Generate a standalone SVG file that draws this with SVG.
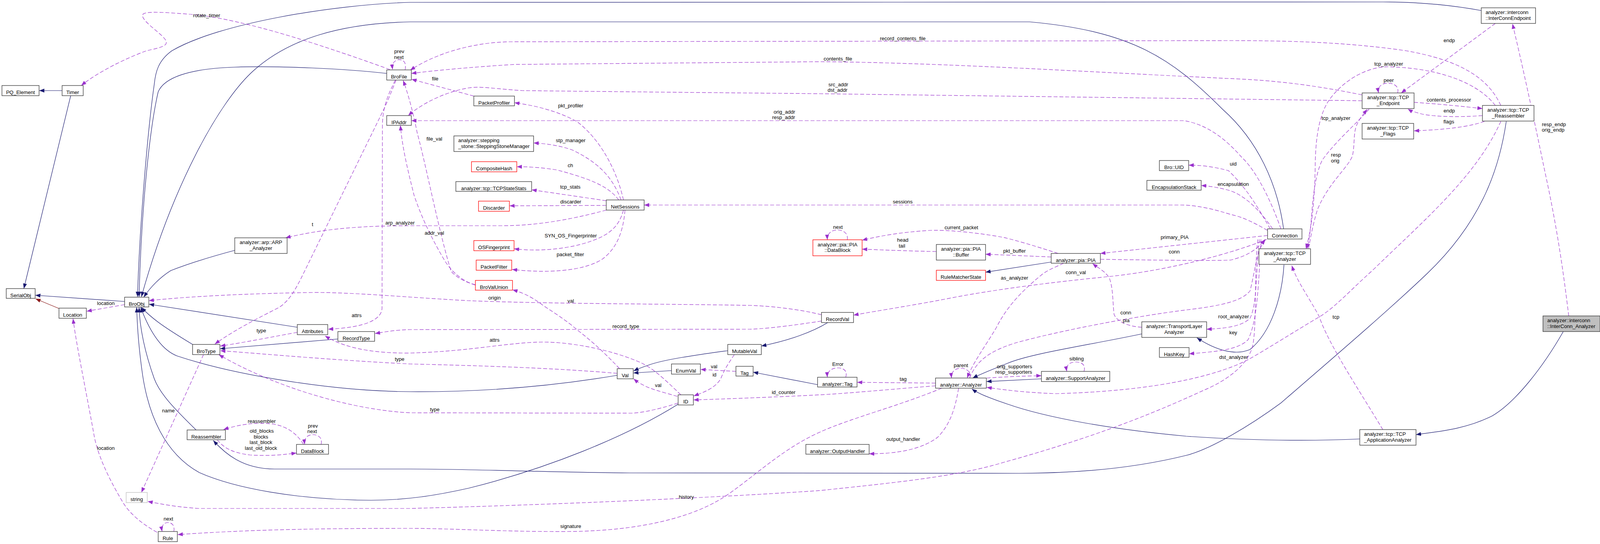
<svg xmlns="http://www.w3.org/2000/svg" width="4195" height="1393" viewBox="0 0 4195 1393">
<style>
text{font-family:"Liberation Sans",Arial,Helvetica,sans-serif;font-size:13px;fill:#000}
.n{text-anchor:middle}
.nl{text-anchor:start}
.l{text-anchor:middle}
.node rect{fill:#fff;stroke:#333;stroke-width:1.3}
.red rect{stroke:#ff0000}
.gray rect{stroke:#bfbfbf}
.hl rect{fill:#bfbfbf}
.inh{fill:none;stroke:#191970;stroke-width:1.2;marker-end:url(#ai)}
.prv{fill:none;stroke:#8b1a1a;stroke-width:1.2;marker-end:url(#ar)}
.use{fill:none;stroke:#9a32cd;stroke-width:1.2;stroke-dasharray:10,5;marker-end:url(#au)}
</style>
<defs>
<marker id="ai" markerUnits="userSpaceOnUse" markerWidth="13" markerHeight="10" viewBox="0 0 13 10" refX="13" refY="5" orient="auto"><path d="M0,0L13,5L0,10z" fill="#191970"/></marker>
<marker id="ar" markerUnits="userSpaceOnUse" markerWidth="13" markerHeight="10" viewBox="0 0 13 10" refX="13" refY="5" orient="auto"><path d="M0,0L13,5L0,10z" fill="#8b1a1a"/></marker>
<marker id="au" markerUnits="userSpaceOnUse" markerWidth="13" markerHeight="10" viewBox="0 0 13 10" refX="13" refY="5" orient="auto"><path d="M0,0L13,5L0,10z" fill="#9a32cd"/></marker>
</defs>
<rect width="4195" height="1393" fill="#fff"/>
<g id="edges">
<path class="inh" d="M159,232L100.5,232"/>
<path class="inh" d="M181,245L61,739"/>
<path class="inh" d="M319,772L90.5,756"/>
<path class="prv" d="M151,790L91,765"/>
<path class="inh" d="M3792,27C3700,10 3620,5 3540,5L1050,6C850,12 560,60 440,130C405,155 398,185 395,215C380,320 358,560 352,760"/>
<path class="inh" d="M3286,586C3270,470 3220,360 3130,280C3000,150 2900,80 2636,56L1050,56C870,60 740,100 650,180C560,260 440,480 362,760"/>
<path class="inh" d="M990,188C880,176 720,168 600,172C480,176 420,200 405,235C385,320 362,520 356,760"/>
<path class="inh" d="M601,641C530,660 470,680 437,693C410,710 385,735 368,761"/>
<path class="inh" d="M761,838L381.5,779"/>
<path class="inh" d="M493,882C460,862 425,840 405,825C385,810 372,798 362,787"/>
<path class="inh" d="M1580,961C1380,995 1200,1004 1050,1003C850,1002 600,960 455,912C410,896 380,840 360,787"/>
<path class="inh" d="M502,1101C450,1050 410,1010 395,970C370,900 358,840 356,787"/>
<path class="inh" d="M1736,1035C1600,1120 1400,1200 1200,1250C1120,1268 1040,1281 950,1281C760,1280 600,1250 510,1210C420,1160 380,1060 365,960C355,890 351,830 350,787"/>
<path class="inh" d="M865,868L563.5,893"/>
<path class="inh" d="M1719,949L1621.5,955"/>
<path class="inh" d="M1863,898C1790,908 1700,920 1660,935C1645,940 1632,945 1622,950"/>
<path class="inh" d="M2119,826C2080,850 2020,872 1949,886"/>
<path class="inh" d="M2093,985L1928,953"/>
<path class="inh" d="M2691,671L2523,697"/>
<path class="inh" d="M2923,855C2780,885 2640,905 2580,930C2540,946 2510,958 2490,968"/>
<path class="inh" d="M2666,970L2525.5,977"/>
<path class="inh" d="M3287,678C3282,760 3255,850 3200,895C3160,912 3110,895 3064,865"/>
<path class="inh" d="M3481,1124C3350,1130 3200,1128 3037,1117C2850,1100 2680,1070 2580,1035C2530,1018 2505,1008 2488,996"/>
<path class="inh" d="M3856,311C3840,420 3800,560 3654,700C3560,790 3420,910 3279,1032C3200,1090 3100,1150 3037,1166C2900,1200 2750,1212 2609,1212L1612,1211C1400,1209 1200,1201 1050,1201L703,1201C620,1201 575,1160 546,1128"/>
<path class="inh" d="M4002,849C3950,940 3880,1030 3820,1065C3750,1100 3680,1105 3625,1113"/>

<path class="use" d="M998,178C850,125 620,45 480,36C400,30 360,28 365,42C370,60 420,90 425,105C430,118 410,122 375,130C320,150 250,185 208,219"/>
<path class="use" d="M1037,179C1041,160 1033,152 1021,153C1009,154 1003,163 1005,178"/>
<path class="use" d="M1014,205C1000,240 990,265 980,285L777,700C755,745 740,770 715,787C660,815 600,845 550,881"/>
<path class="use" d="M1012,205C995,240 980,270 979,320L978,790C975,830 900,840 840,843"/>
<path class="use" d="M1552,538C1470,560 1380,578 1284,578L1050,578C930,578 830,585 731,609"/>
<path class="use" d="M1217,729C1195,724 1170,712 1155,695C1125,600 1090,420 1068,340C1058,290 1045,240 1032,206"/>
<path class="use" d="M1217,730C1185,720 1160,700 1140,670C1110,620 1080,560 1060,500C1045,440 1030,380 1025,321"/>
<path class="use" d="M1213,246L1053.5,203"/>
<path class="use" d="M3842,270C3810,200 3740,155 3600,130C3450,108 3300,104 3145,104L1300,107C1200,110 1110,140 1050,180"/>
<path class="use" d="M3487,243C3350,215 3250,205 3145,201C2800,185 2400,160 2100,158L1318,165C1200,172 1100,182 1053,188"/>
<path class="use" d="M3487,258L2100,240C1800,237 1500,234 1338,232C1270,228 1230,220 1200,225C1140,235 1080,265 1045,296"/>
<path class="use" d="M3279,586C3260,530 3220,440 3178,402C3150,370 3100,320 3031,309L1053,309"/>
<path class="use" d="M3252,586C3230,550 3200,490 3145,437C3100,425 3070,423 3043,423"/>
<path class="use" d="M3258,586C3230,545 3190,500 3145,487C3110,478 3090,476 3075,475"/>
<path class="use" d="M3245,590C3210,570 3180,555 3150,549C3090,530 3050,525 3024,525L1649,525"/>
<path class="use" d="M1596,512C1580,440 1540,360 1478,312C1430,285 1370,270 1317,263"/>
<path class="use" d="M1590,512C1570,460 1540,420 1465,384C1430,372 1400,368 1366,366"/>
<path class="use" d="M1584,512C1560,480 1520,460 1425,435C1380,428 1350,427 1323,427"/>
<path class="use" d="M1552,514L1361,486"/>
<path class="use" d="M1552,526L1304.5,527"/>
<path class="use" d="M1596,538C1585,580 1560,600 1520,615C1460,638 1380,645 1316,637"/>
<path class="use" d="M1600,538C1595,600 1575,640 1540,665C1490,695 1400,700 1311,690"/>
<path class="use" d="M1586,944C1540,895 1510,870 1478,845C1440,812 1400,790 1385,778C1360,760 1340,750 1312,742"/>
<path class="use" d="M2103,806C2040,790 1960,783 1920,782C1700,778 1400,778 1200,770C1050,762 900,748 800,749C600,752 450,762 381,770"/>
<path class="use" d="M2103,822C2000,838 1950,842 1920,843L1050,844C1010,845 985,850 960,854"/>
<path class="use" d="M1743,1011C1700,970 1670,940 1632,925C1560,895 1460,875 1385,876C1300,877 1200,900 1050,904C950,905 880,890 832,860"/>
<path class="use" d="M1580,956C1450,945 1300,938 1050,932C850,922 700,908 564,898"/>
<path class="use" d="M1736,1032C1680,1050 1640,1057 1619,1058L1050,1057C900,1050 700,990 560,908"/>
<path class="use" d="M761,851C700,862 620,878 564,886"/>
<path class="use" d="M1734,1015C1700,1005 1660,995 1645,985C1635,980 1628,975 1622,970"/>
<path class="use" d="M1884,951L1793.5,946"/>
<path class="use" d="M1880,908C1865,930 1855,945 1845,970C1830,995 1800,1005 1776,1014"/>
<path class="use" d="M2395,988C2300,995 2200,1005 2100,1011C2000,1016 1850,1022 1775.5,1024"/>
<path class="use" d="M2395,981L2194.5,979"/>
<path class="use" d="M2165,966C2170,952 2162,942 2145,942C2128,942 2117,952 2118,966"/>
<path class="use" d="M2483,968C2486,952 2475,943 2460,943C2445,943 2434,952 2436,968"/>
<path class="use" d="M2723,674C2700,685 2680,692 2665,705C2610,750 2575,790 2550,840C2520,890 2490,930 2476,968"/>
<path class="use" d="M2482,968C2500,925 2530,900 2600,878C2700,850 2900,810 3050,792C3130,782 3180,770 3200,745C3212,700 3215,650 3238,613"/>
<path class="use" d="M2526,968C2570,965 2620,963 2666,962"/>
<path class="use" d="M2775,951C2780,935 2770,927 2754,927C2738,927 2728,935 2731,951"/>
<path class="use" d="M2454,994C2445,1050 2430,1090 2400,1120C2360,1150 2300,1162 2225,1162"/>
<path class="use" d="M2411,994C2300,1040 2180,1070 2100,1106C2000,1150 1920,1230 1853,1273C1780,1320 1650,1360 1452,1361C1300,1362 1150,1353 1050,1353C850,1353 650,1355 455,1369"/>
<path class="use" d="M3220,613C3210,700 3218,830 3207,885C3195,935 3140,975 3080,1000C2950,1060 2800,1120 2569,1184C2450,1220 2300,1235 2100,1256C1900,1270 1500,1290 1050,1302L509,1302C450,1298 420,1292 378,1284"/>
<path class="use" d="M3842,311C3780,450 3650,560 3513,693C3460,740 3420,785 3380,810C3320,845 3250,890 3197,920C3140,950 3000,1000 2703,1008C2620,1005 2570,998 2526,992"/>
<path class="use" d="M3224,613C3215,700 3218,780 3200,815C3180,835 3140,841 3089,843"/>
<path class="use" d="M3228,613C3222,720 3220,820 3195,870C3170,895 3120,900 3044,906"/>
<path class="use" d="M3245,603L2817,649"/>
<path class="use" d="M2817,664C2950,666 3100,668 3150,666C3195,655 3215,640 3240,613"/>
<path class="use" d="M3243,613C3150,650 3000,690 2850,707C2700,722 2570,738 2450,760C2350,780 2250,795 2185,807"/>
<path class="use" d="M2923,838C2890,836 2860,825 2852,805C2848,770 2850,740 2840,712C2830,695 2810,685 2797,675"/>
<path class="use" d="M2709,649C2650,630 2600,615 2569,608C2500,595 2420,588 2380,590C2300,595 2250,605 2207,615"/>
<path class="use" d="M2397,644C2330,643 2260,640 2207,638"/>
<path class="use" d="M2691,658L2523,651"/>
<path class="use" d="M2169,614C2172,598 2160,589 2144,589C2128,589 2117,598 2118,614"/>
<path class="use" d="M445,1361C448,1346 440,1338 430,1338C420,1338 412,1346 415,1361"/>
<path class="use" d="M822,1138C826,1122 816,1113 801,1113C787,1113 778,1122 780,1138"/>
<path class="use" d="M777,1138C760,1110 735,1092 700,1086C650,1080 610,1088 572,1100"/>
<path class="use" d="M556,1126C575,1150 600,1160 640,1165C690,1168 720,1165 759,1160"/>
<path class="use" d="M521,908L362,1261"/>
<path class="use" d="M402,1363C360,1340 330,1312 315,1287C275,1220 248,1160 240,1110C220,1000 195,880 187,816"/>
<path class="use" d="M319,780L222,797"/>
<path class="use" d="M3828,60L3587,238"/>
<path class="use" d="M3578,238C3582,222 3570,213 3553,213C3537,213 3526,222 3529,238"/>
<path class="use" d="M3620,262C3680,266 3740,272 3795,278"/>
<path class="use" d="M3795,296C3740,300 3680,300 3640,292C3625,288 3612,284 3604,279"/>
<path class="use" d="M3800,311C3760,325 3700,332 3620,335"/>
<path class="use" d="M3828,270C3790,220 3700,175 3555,171C3490,171 3430,215 3400,260C3375,300 3368,360 3367,420C3366,500 3360,580 3343,637"/>
<path class="use" d="M3505,279C3480,310 3420,360 3385,410C3365,450 3360,520 3357,560C3354,600 3350,620 3346,637"/>
<path class="use" d="M3350,637C3356,600 3365,560 3373,536C3400,470 3450,430 3462,400C3468,375 3465,350 3470,330C3475,310 3488,295 3500,280"/>
<path class="use" d="M3540,1100C3480,1000 3400,880 3377,810C3350,760 3320,720 3307,680"/>
<path class="use" d="M4016,809C4005,720 3990,600 3955,440C3930,320 3905,200 3872,61"/>

<text class="l" x="529" y="44">rotate_timer</text>
<text class="l" x="1022" y="136">prev</text>
<text class="l" x="1021" y="151">next</text>
<text class="l" x="800" y="579">t</text>
<text class="l" x="1024" y="575">arp_analyzer</text>
<text class="l" x="271" y="781">location</text>
<text class="l" x="913" y="812">attrs</text>
<text class="l" x="669" y="851">type</text>
<text class="l" x="1023" y="924">type</text>
<text class="l" x="431" y="1056">name</text>
<text class="l" x="670" y="1083">reassembler</text>
<text class="l" x="670" y="1108">old_blocks</text>
<text class="l" x="668" y="1123">blocks</text>
<text class="l" x="668" y="1137">last_block</text>
<text class="l" x="668" y="1152">last_old_block</text>
<text class="l" x="801" y="1095">prev</text>
<text class="l" x="799" y="1109">next</text>
<text class="l" x="271" y="1152">location</text>
<text class="l" x="431" y="1333">next</text>
<text class="l" x="1114" y="206">file</text>
<text class="l" x="1461" y="275">pkt_profiler</text>
<text class="l" x="2008" y="291">orig_addr</text>
<text class="l" x="2006" y="305">resp_addr</text>
<text class="l" x="1112" y="360">file_val</text>
<text class="l" x="1461" y="364">stp_manager</text>
<text class="l" x="1460" y="428">ch</text>
<text class="l" x="1460" y="483">tcp_stats</text>
<text class="l" x="1461" y="521">discarder</text>
<text class="l" x="1112" y="601">addr_val</text>
<text class="l" x="1461" y="608">SYN_OS_Fingerprinter</text>
<text class="l" x="1460" y="656">packet_filter</text>
<text class="l" x="1266" y="767">origin</text>
<text class="l" x="1461" y="775">val</text>
<text class="l" x="1602" y="840">record_type</text>
<text class="l" x="1266" y="875">attrs</text>
<text class="l" x="1828" y="943">val</text>
<text class="l" x="1829" y="964">id</text>
<text class="l" x="1685" y="991">val</text>
<text class="l" x="2006" y="1009">id_counter</text>
<text class="l" x="1113" y="1053">type</text>
<text class="l" x="1757" y="1277">history</text>
<text class="l" x="1461" y="1352">signature</text>
<text class="l" x="2311" y="103">record_contents_file</text>
<text class="l" x="2145" y="155">contents_file</text>
<text class="l" x="2146" y="221">src_addr</text>
<text class="l" x="2144" y="235">dst_addr</text>
<text class="l" x="2311" y="521">sessions</text>
<text class="l" x="2145" y="586">next</text>
<text class="l" x="2461" y="587">current_packet</text>
<text class="l" x="2311" y="619">head</text>
<text class="l" x="2309" y="634">tail</text>
<text class="l" x="2597" y="647">pkt_buffer</text>
<text class="l" x="3007" y="612">primary_PIA</text>
<text class="l" x="3006" y="649">conn</text>
<text class="l" x="2754" y="702">conn_val</text>
<text class="l" x="2597" y="716">as_analyzer</text>
<text class="l" x="2882" y="805">conn</text>
<text class="l" x="2883" y="825">pia</text>
<text class="l" x="3158" y="815">root_analyzer</text>
<text class="l" x="3157" y="856">key</text>
<text class="l" x="3158" y="919">dst_analyzer</text>
<text class="l" x="2145" y="937">Error</text>
<text class="l" x="2460" y="940">parent</text>
<text class="l" x="2597" y="943">orig_supporters</text>
<text class="l" x="2595" y="957">resp_supporters</text>
<text class="l" x="2756" y="923">sibling</text>
<text class="l" x="2312" y="975">tag</text>
<text class="l" x="2312" y="1129">output_handler</text>
<text class="l" x="3157" y="424">uid</text>
<text class="l" x="3157" y="476">encapsulation</text>
<text class="l" x="3710" y="108">endp</text>
<text class="l" x="3555" y="168">tcp_analyzer</text>
<text class="l" x="3555" y="210">peer</text>
<text class="l" x="3709" y="260">contents_processor</text>
<text class="l" x="3710" y="288">endp</text>
<text class="l" x="3709" y="316">flags</text>
<text class="l" x="3420" y="307">tcp_analyzer</text>
<text class="l" x="3420" y="401">resp</text>
<text class="l" x="3418" y="416">orig</text>
<text class="l" x="3978" y="323">resp_endp</text>
<text class="l" x="3976" y="337">orig_endp</text>
<text class="l" x="3420" y="816">tcp</text>
</g>

<g id="PQ_Element" class="node"><rect x="5" y="219" width="95" height="26"/><text class="n" x="52.5" y="241">PQ_Element</text></g>
<g id="Timer" class="node"><rect x="159" y="219" width="54" height="26"/><text class="n" x="186" y="241">Timer</text></g>
<g id="SerialObj" class="node"><rect x="16" y="739" width="74" height="25"/><text class="n" x="53" y="760.5">SerialObj</text></g>
<g id="Location" class="node"><rect x="151" y="789" width="70" height="26"/><text class="n" x="186" y="811">Location</text></g>
<g id="BroObj" class="node"><rect x="319" y="761" width="62" height="25"/><text class="n" x="350" y="782.5">BroObj</text></g>
<g id="BroFile" class="node"><rect x="990" y="179" width="63" height="26"/><text class="n" x="1021.5" y="201">BroFile</text></g>
<g id="IPAddr" class="node"><rect x="990" y="296" width="63" height="25"/><text class="n" x="1021.5" y="317.5">IPAddr</text></g>
<g id="ARP_Analyzer" class="node"><rect x="601" y="609" width="134" height="40"/><text class="n" x="668" y="625">analyzer::arp::ARP</text><text class="n" x="668" y="639.5">_Analyzer</text></g>
<g id="Attributes" class="node"><rect x="761" y="831" width="78" height="26"/><text class="n" x="800" y="853">Attributes</text></g>
<g id="RecordType" class="node"><rect x="865" y="849" width="94" height="25"/><text class="n" x="912" y="870.5">RecordType</text></g>
<g id="BroType" class="node"><rect x="493" y="882" width="70" height="26"/><text class="n" x="528" y="904">BroType</text></g>
<g id="Reassembler" class="node"><rect x="479" y="1101" width="98" height="25"/><text class="n" x="528" y="1122.5">Reassembler</text></g>
<g id="DataBlock" class="node"><rect x="759" y="1138" width="82" height="25"/><text class="n" x="800" y="1159.5">DataBlock</text></g>
<g id="string" class="node gray"><rect x="323" y="1261" width="54" height="26"/><text class="n" x="350" y="1283">string</text></g>
<g id="Rule" class="node"><rect x="405" y="1361" width="49" height="26"/><text class="n" x="429.5" y="1383">Rule</text></g>
<g id="PacketProfiler" class="node"><rect x="1213" y="246" width="104" height="25"/><text class="n" x="1265" y="267.5">PacketProfiler</text></g>
<g id="SteppingStoneManager" class="node"><rect x="1162" y="348" width="204" height="40"/><text class="nl" x="1173" y="364">analyzer::stepping</text><text class="nl" x="1173" y="378.5">_stone::SteppingStoneManager</text></g>
<g id="CompositeHash" class="node red"><rect x="1207" y="414" width="116" height="26"/><text class="n" x="1265" y="436">CompositeHash</text></g>
<g id="TCPStateStats" class="node"><rect x="1167" y="465" width="194" height="25"/><text class="n" x="1264" y="486.5">analyzer::tcp::TCPStateStats</text></g>
<g id="Discarder" class="node red"><rect x="1225" y="515" width="79" height="26"/><text class="n" x="1264.5" y="537">Discarder</text></g>
<g id="NetSessions" class="node"><rect x="1552" y="512" width="97" height="26"/><text class="n" x="1600.5" y="534">NetSessions</text></g>
<g id="OSFingerprint" class="node red"><rect x="1213" y="616" width="103" height="26"/><text class="n" x="1264.5" y="638">OSFingerprint</text></g>
<g id="PacketFilter" class="node red"><rect x="1219" y="666" width="91" height="26"/><text class="n" x="1264.5" y="688">PacketFilter</text></g>
<g id="BroValUnion" class="node red"><rect x="1217" y="718" width="95" height="25"/><text class="n" x="1264.5" y="739.5">BroValUnion</text></g>
<g id="MutableVal" class="node"><rect x="1863" y="882" width="86" height="26"/><text class="n" x="1906" y="904">MutableVal</text></g>
<g id="Val" class="node"><rect x="1580" y="944" width="41" height="26"/><text class="n" x="1600.5" y="966">Val</text></g>
<g id="EnumVal" class="node"><rect x="1719" y="932" width="74" height="26"/><text class="n" x="1756" y="954">EnumVal</text></g>
<g id="Tag" class="node"><rect x="1884" y="938" width="44" height="25"/><text class="n" x="1906" y="959.5">Tag</text></g>
<g id="ID" class="node"><rect x="1736" y="1011" width="39" height="26"/><text class="n" x="1755.5" y="1033">ID</text></g>
<g id="analyzer_Tag" class="node"><rect x="2093" y="966" width="101" height="25"/><text class="n" x="2143.5" y="987.5">analyzer::Tag</text></g>
<g id="OutputHandler" class="node"><rect x="2063" y="1138" width="162" height="25"/><text class="n" x="2144" y="1159.5">analyzer::OutputHandler</text></g>
<g id="PIA_DataBlock" class="node red"><rect x="2081" y="614" width="126" height="41"/><text class="n" x="2144" y="630.5">analyzer::pia::PIA</text><text class="n" x="2144" y="645">::DataBlock</text></g>
<g id="PIA_Buffer" class="node"><rect x="2397" y="626" width="126" height="40"/><text class="n" x="2460" y="642">analyzer::pia::PIA</text><text class="n" x="2460" y="656.5">::Buffer</text></g>
<g id="RuleMatcherState" class="node red"><rect x="2397" y="692" width="126" height="26"/><text class="n" x="2460" y="714">RuleMatcherState</text></g>
<g id="PIA" class="node"><rect x="2691" y="649" width="126" height="25"/><text class="n" x="2754" y="670.5">analyzer::pia::PIA</text></g>
<g id="RecordVal" class="node"><rect x="2103" y="800" width="82" height="26"/><text class="n" x="2144" y="822">RecordVal</text></g>
<g id="Analyzer" class="node"><rect x="2395" y="968" width="130" height="26"/><text class="n" x="2460" y="990">analyzer::Analyzer</text></g>
<g id="SupportAnalyzer" class="node"><rect x="2666" y="951" width="175" height="26"/><text class="n" x="2753.5" y="973">analyzer::SupportAnalyzer</text></g>
<g id="TransportLayerAnalyzer" class="node"><rect x="2923" y="824" width="166" height="40"/><text class="n" x="3006" y="840">analyzer::TransportLayer</text><text class="n" x="3006" y="854.5">Analyzer</text></g>
<g id="HashKey" class="node"><rect x="2968" y="890" width="76" height="25"/><text class="n" x="3006" y="911.5">HashKey</text></g>
<g id="Bro_UID" class="node"><rect x="2968" y="411" width="75" height="26"/><text class="n" x="3005.5" y="433">Bro::UID</text></g>
<g id="EncapsulationStack" class="node"><rect x="2936" y="462" width="139" height="25"/><text class="n" x="3005.5" y="483.5">EncapsulationStack</text></g>
<g id="Connection" class="node"><rect x="3245" y="586" width="88" height="26"/><text class="n" x="3289" y="608">Connection</text></g>
<g id="TCP_Analyzer" class="node"><rect x="3223" y="637" width="132" height="40"/><text class="n" x="3289" y="653">analyzer::tcp::TCP</text><text class="n" x="3289" y="667.5">_Analyzer</text></g>
<g id="TCP_Endpoint" class="node"><rect x="3487" y="238" width="133" height="40"/><text class="n" x="3553.5" y="254">analyzer::tcp::TCP</text><text class="n" x="3553.5" y="268.5">_Endpoint</text></g>
<g id="TCP_Reassembler" class="node"><rect x="3795" y="270" width="132" height="40"/><text class="n" x="3861" y="286">analyzer::tcp::TCP</text><text class="n" x="3861" y="300.5">_Reassembler</text></g>
<g id="TCP_Flags" class="node"><rect x="3487" y="316" width="132" height="40"/><text class="n" x="3553" y="332">analyzer::tcp::TCP</text><text class="n" x="3553" y="346.5">_Flags</text></g>
<g id="InterConnEndpoint" class="node"><rect x="3792" y="20" width="139" height="40"/><text class="nl" x="3803" y="36">analyzer::interconn</text><text class="nl" x="3803" y="50.5">::InterConnEndpoint</text></g>
<g id="InterConn_Analyzer" class="node hl"><rect x="3950" y="809" width="146" height="40"/><text class="nl" x="3961" y="825" textLength="110" lengthAdjust="spacingAndGlyphs">analyzer::interconn</text><text class="nl" x="3961" y="839.5" textLength="123" lengthAdjust="spacingAndGlyphs">::InterConn_Analyzer</text></g>
<g id="TCP_ApplicationAnalyzer" class="node"><rect x="3481" y="1100" width="144" height="40"/><text class="nl" x="3492" y="1116">analyzer::tcp::TCP</text><text class="nl" x="3492" y="1130.5">_ApplicationAnalyzer</text></g>
</svg>
